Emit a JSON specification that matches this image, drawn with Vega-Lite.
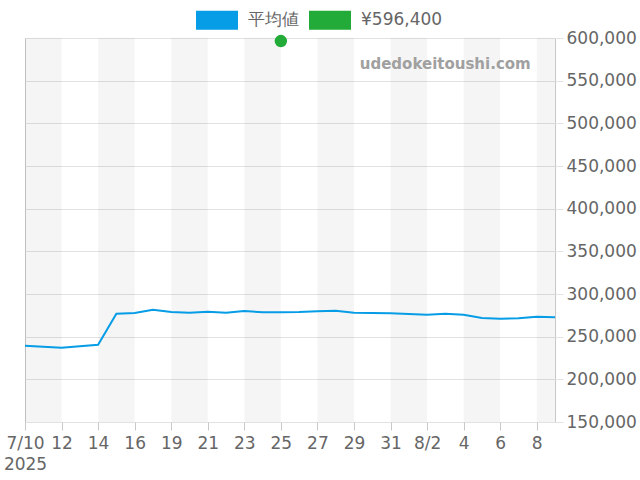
{
  "$schema": "https://vega.github.io/schema/vega-lite/v6.json",
  "autosize": "none",
  "width": 530,
  "height": 384,
  "padding": {"left": 25, "top": 38, "right": 85, "bottom": 58},
  "config": {
    "font": "DejaVu Sans",
    "view": {"stroke": "#c8c8c8", "strokeWidth": 1},
    "axis": {"labelFont": "DejaVu Sans", "labelFontSize": 17, "labelColor": "#666666", "title": null}
  },
  "datasets": {
    "prices": [
      {"date": "7/10", "price": 239400},
      {"date": "7/11", "price": 238200},
      {"date": "7/12", "price": 237100},
      {"date": "7/13", "price": 238800},
      {"date": "7/14", "price": 240600},
      {"date": "7/15", "price": 276900},
      {"date": "7/16", "price": 277700},
      {"date": "7/18", "price": 281600},
      {"date": "7/19", "price": 278900},
      {"date": "7/20", "price": 278100},
      {"date": "7/21", "price": 279300},
      {"date": "7/22", "price": 278100},
      {"date": "7/23", "price": 280100},
      {"date": "7/24", "price": 278600},
      {"date": "7/25", "price": 278600},
      {"date": "7/26", "price": 278900},
      {"date": "7/27", "price": 279800},
      {"date": "7/28", "price": 280400},
      {"date": "7/29", "price": 278100},
      {"date": "7/30", "price": 277700},
      {"date": "7/31", "price": 277400},
      {"date": "8/1", "price": 276600},
      {"date": "8/2", "price": 275700},
      {"date": "8/3", "price": 276900},
      {"date": "8/4", "price": 275700},
      {"date": "8/5", "price": 271900},
      {"date": "8/6", "price": 271100},
      {"date": "8/7", "price": 271500},
      {"date": "8/8", "price": 273400},
      {"date": "8/9", "price": 272700}
    ],
    "bands": [
      {"start": "7/10", "end": "7/12"},
      {"start": "7/14", "end": "7/16"},
      {"start": "7/19", "end": "7/21"},
      {"start": "7/23", "end": "7/25"},
      {"start": "7/27", "end": "7/29"},
      {"start": "7/31", "end": "8/2"},
      {"start": "8/4", "end": "8/6"},
      {"start": "8/8", "end": "8/9"}
    ],
    "marker": [
      {"date": "7/25", "price": 596400, "series": "¥596,400"}
    ],
    "watermark": [
      {"date": "8/8", "price": 569500, "text": "udedokeitoushi.com"}
    ]
  },
  "encoding": {
    "x": {
      "field": "date",
      "type": "ordinal",
      "scale": {
        "type": "point",
        "padding": 0,
        "domain": ["7/10","7/11","7/12","7/13","7/14","7/15","7/16","7/18","7/19","7/20","7/21","7/22","7/23","7/24","7/25","7/26","7/27","7/28","7/29","7/30","7/31","8/1","8/2","8/3","8/4","8/5","8/6","8/7","8/8","8/9"]
      },
      "axis": {
        "values": ["7/10","7/12","7/14","7/16","7/19","7/21","7/23","7/25","7/27","7/29","7/31","8/2","8/4","8/6","8/8"],
        "labelExpr": "datum.value == '7/10' ? ['7/10', '2025'] : datum.value == '8/2' ? '8/2' : split(datum.value, '/')[1]",
        "labelAngle": 0,
        "labelLineHeight": 21,
        "labelPadding": 5,
        "tickSize": 8,
        "tickColor": "#c8c8c8",
        "domain": false,
        "grid": false
      }
    },
    "y": {
      "field": "price",
      "type": "quantitative",
      "scale": {"domain": [150000, 600000], "nice": false, "zero": false},
      "axis": {
        "orient": "right",
        "values": [150000, 200000, 250000, 300000, 350000, 400000, 450000, 500000, 550000, 600000],
        "format": ",.0f",
        "grid": true,
        "gridColor": "#e2e2e2",
        "tickColor": "#e2e2e2",
        "tickSize": 8,
        "labelPadding": 3,
        "domain": false
      }
    }
  },
  "layer": [
    {
      "data": {"name": "bands"},
      "mark": {"type": "rect", "fill": "#000000", "opacity": 0.04},
      "encoding": {
        "x": {"field": "start", "type": "ordinal"},
        "x2": {"field": "end"},
        "y": null
      }
    },
    {
      "data": {"name": "prices"},
      "mark": {"type": "line", "color": "#069de6", "strokeWidth": 2}
    },
    {
      "data": {"name": "marker"},
      "mark": {"type": "point", "filled": true, "size": 154, "opacity": 1},
      "encoding": {
        "color": {
          "field": "series",
          "type": "nominal",
          "scale": {"domain": ["平均値", "¥596,400"], "range": ["#069de6", "#22ab38"]},
          "legend": {
            "title": null,
            "orient": "none",
            "direction": "horizontal",
            "legendX": 171,
            "legendY": -39,
            "symbolType": "M-1,-0.45H1V0.45H-1Z",
            "symbolSize": 1764,
            "symbolStrokeWidth": 0,
            "symbolOpacity": 1,
            "labelFont": "DejaVu Sans",
            "labelFontSize": 17,
            "labelColor": "#666666",
            "labelOffset": 10,
            "columnPadding": 10,
            "labelLimit": 300
          }
        }
      }
    },
    {
      "data": {"name": "watermark"},
      "mark": {"type": "text", "align": "right", "baseline": "middle", "dx": -6, "font": "DejaVu Sans", "fontWeight": "bold", "fontSize": 15, "color": "#a0a0a0"},
      "encoding": {"text": {"field": "text"}}
    }
  ]
}
